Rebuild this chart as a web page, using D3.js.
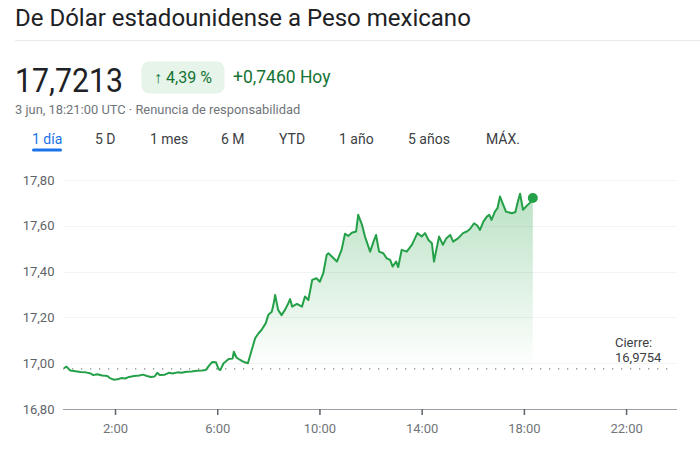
<!DOCTYPE html>
<html><head><meta charset="utf-8">
<script src="https://cdn.jsdelivr.net/npm/d3@7"></script>
<style>
html,body{margin:0;padding:0;background:#fff;}
svg{display:block;font-family:Roboto,"Noto Sans",Arial,sans-serif;}
</style></head>
<body>
<svg id="c" width="700" height="459"></svg>
<script>
const times = ["00:00","00:06","00:15","00:27","00:39","00:51","01:03","01:09","01:18","01:30","01:42","01:48","01:57","02:06","02:15","02:24","02:33","02:45","02:57","03:06","03:15","03:24","03:33","03:39","03:45","03:57","04:06","04:15","04:27","04:36","04:48","05:00","05:12","05:24","05:33","05:39","05:48","05:57","06:03","06:07","06:15","06:27","06:36","06:39","06:45","06:54","07:03","07:12","07:21","07:29","07:37","07:44","07:54","08:00","08:08","08:12","08:16","08:23","08:31","08:39","08:47","08:51","08:56","09:07","09:19","09:26","09:34","09:43","09:53","10:01","10:09","10:17","10:21","10:29","10:41","10:52","11:00","11:08","11:16","11:26","11:31","11:40","11:47","11:59","12:07","12:13","12:20","12:30","12:38","12:46","12:52","13:00","13:05","13:13","13:25","13:37","13:50","14:00","14:08","14:16","14:24","14:29","14:36","14:41","14:50","14:58","15:07","15:14","15:26","15:37","15:46","15:53","16:03","16:11","16:17","16:25","16:33","16:39","16:44","16:52","16:58","17:04","17:10","17:18","17:32","17:40","17:46","17:51","17:58","18:05","18:14","18:21"];
const values = [16.978,16.985,16.968,16.965,16.962,16.960,16.955,16.948,16.952,16.946,16.944,16.935,16.928,16.930,16.935,16.933,16.940,16.944,16.946,16.950,16.944,16.940,16.942,16.958,16.948,16.950,16.958,16.955,16.960,16.958,16.963,16.964,16.967,16.968,16.970,16.985,17.005,17.004,16.975,16.970,17.000,17.018,17.020,17.050,17.025,17.014,17.005,17.000,17.058,17.109,17.131,17.145,17.175,17.211,17.225,17.255,17.298,17.233,17.210,17.233,17.262,17.280,17.247,17.259,17.247,17.291,17.276,17.364,17.371,17.356,17.393,17.473,17.480,17.466,17.444,17.495,17.565,17.556,17.570,17.575,17.648,17.604,17.553,17.487,17.531,17.560,17.487,17.480,17.458,17.451,17.422,17.444,17.420,17.495,17.487,17.517,17.568,17.553,17.568,17.538,17.524,17.444,17.509,17.553,17.517,17.546,17.560,17.531,17.546,17.568,17.575,17.585,17.611,17.600,17.582,17.618,17.640,17.648,17.626,17.662,17.677,17.728,17.699,17.662,17.655,17.660,17.706,17.740,17.670,17.684,17.700,17.7213];
const previousClose = 16.9754;
const currentPrice = "17,7213";
const changePct = "4,39 %";
const changeAbs = "+0,7460 Hoy";
const yTicks = [16.8, 17.0, 17.2, 17.4, 17.6, 17.8];
const xTickTimes = ["02:00","06:00","10:00","14:00","18:00","22:00"];
const xTickLabels = ["2:00","6:00","10:00","14:00","18:00","22:00"];
const tabs = ["1 día","5 D","1 mes","6 M","YTD","1 año","5 años","MÁX."];
const tabX = [32, 95, 150, 221, 279, 339, 408, 486];

const parse = d3.timeParse("%H:%M");
const data = times.map((t,i)=>({t:parse(t), v:values[i]}));
const t0 = parse("00:00");
const t1 = d3.timeDay.offset(t0, 1);

const svg = d3.select("#c");
const fmtComma = (v, n) => v.toFixed(n).replace(".", ",");
const GREEN = "#24a048";

// Header
svg.append("text").attr("x",15).attr("y",26).attr("font-size",24).attr("fill","#202124")
  .text("De Dólar estadounidense a Peso mexicano");
svg.append("line").attr("x1",15).attr("x2",700).attr("y1",40.5).attr("y2",40.5)
  .attr("stroke","#e8eaed").attr("stroke-width",1);

const last = data[data.length-1];
svg.append("text").attr("x",15).attr("y",91.5).attr("font-size",34).attr("fill","#202124")
  .attr("textLength",108).attr("lengthAdjust","spacingAndGlyphs")
  .text(currentPrice);
svg.append("rect").attr("x",141.5).attr("y",61.5).attr("width",83).attr("height",32).attr("rx",8)
  .attr("fill","#e6f4ea");
svg.append("text").attr("x",183).attr("y",82.5).attr("text-anchor","middle").attr("font-size",16).attr("fill","#137333")
  .text("↑ " + changePct);
svg.append("text").attr("x",233).attr("y",83).attr("font-size",17.5).attr("fill","#137333")
  .text(changeAbs);
svg.append("text").attr("x",15).attr("y",114).attr("font-size",12.9).attr("fill","#70757a")
  .text("3 jun, 18:21:00 UTC · Renuncia de responsabilidad");

tabs.forEach((t,i)=>{
  svg.append("text").attr("x",tabX[i]).attr("y",144).attr("font-size",14)
    .attr("fill", i===0 ? "#1a73e8" : "#3c4043").text(t);
});
svg.append("rect").attr("x",32).attr("y",148.5).attr("width",30).attr("height",3).attr("rx",1.5).attr("fill","#1a73e8");

// Chart
const x = d3.scaleTime().domain([t0,t1]).range([63.9, 677.2]);
const y = d3.scaleLinear().domain([16.8, 17.8]).range([409, 180]);

const g = svg.append("g");
yTicks.forEach(v=>{
  if (v > 16.8) g.append("line").attr("x1",63).attr("x2",677).attr("y1",Math.round(y(v))+0.5).attr("y2",Math.round(y(v))+0.5)
     .attr("stroke","#f1f3f4").attr("stroke-width",1);
  g.append("text").attr("x",54.5).attr("y",y(v)).attr("dy","0.35em").attr("text-anchor","end")
     .attr("font-size",13).attr("fill","#5f6368").text(fmtComma(v,2));
});

// x axis
const xa = svg.append("g").attr("transform","translate(0,409)")
  .call(d3.axisBottom(x).tickValues(xTickTimes.map(parse)).tickFormat((d,i)=>xTickLabels[i]).tickSize(6).tickPadding(9));
xa.select(".domain").attr("d","M63,0.5H677").attr("stroke","#9aa0a6");
xa.selectAll(".tick line").attr("stroke","#5f6368").attr("stroke-width",1.5);
xa.selectAll(".tick text").attr("font-size",13).attr("fill","#70757a").attr("font-family","Roboto");

// gradient area
const defs = svg.append("defs");
const grad = defs.append("linearGradient").attr("id","gr").attr("gradientUnits","userSpaceOnUse")
  .attr("x1",0).attr("x2",0).attr("y1",y(17.75)).attr("y2",y(previousClose));
grad.append("stop").attr("offset",0).attr("stop-color","#34a853").attr("stop-opacity",0.34);
grad.append("stop").attr("offset",1).attr("stop-color","#34a853").attr("stop-opacity",0.0);
defs.append("clipPath").attr("id","above").append("rect")
  .attr("x",0).attr("y",0).attr("width",700).attr("height",y(previousClose));

const area = d3.area().x(d=>x(d.t)).y0(y(previousClose)).y1(d=>y(d.v));
svg.append("path").datum(data).attr("d",area).attr("fill","url(#gr)").attr("clip-path","url(#above)");

// previous close dotted line
svg.append("line").attr("x1",63).attr("x2",672).attr("y1",y(previousClose)).attr("y2",y(previousClose))
  .attr("stroke","#80868b").attr("stroke-width",1.3).attr("stroke-dasharray","1.3,7.7");

const line = d3.line().x(d=>x(d.t)).y(d=>y(d.v));
svg.append("path").datum(data).attr("d",line).attr("fill","none").attr("stroke",GREEN)
  .attr("stroke-width",2).attr("stroke-linejoin","round");
svg.append("circle").attr("cx",x(last.t)).attr("cy",y(last.v)).attr("r",5).attr("fill",GREEN);

svg.append("text").attr("x",615).attr("y",347).attr("font-size",13).attr("fill","#3c4043").text("Cierre:");
svg.append("text").attr("x",615).attr("y",362).attr("font-size",13).attr("fill","#3c4043").text(fmtComma(previousClose,4));
</script>
</body></html>
